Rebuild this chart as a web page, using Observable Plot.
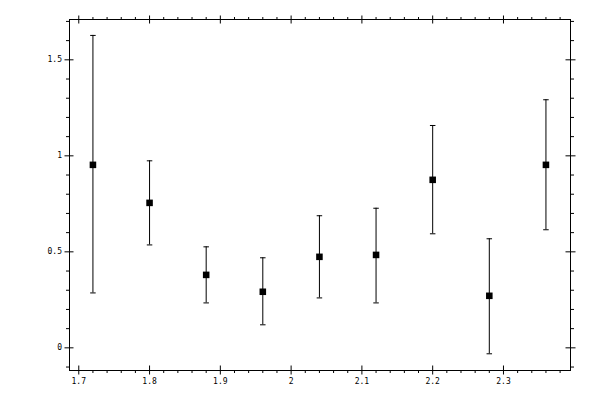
<!DOCTYPE html>
<html>
<head>
<meta charset="utf-8">
<script src="https://cdn.jsdelivr.net/npm/d3@7"></script>
<script src="https://cdn.jsdelivr.net/npm/@observablehq/plot@0.6"></script>
<style>
  body { margin: 0; background: white; }
</style>
</head>
<body>
<div id="chart"></div>
<script>
// Data
const xs    = [1.72, 1.80, 1.88, 1.96, 2.04, 2.12, 2.20, 2.28, 2.36];
const ys    = [0.953, 0.755, 0.380, 0.292, 0.474, 0.484, 0.875, 0.271, 0.953];
const lows  = [0.286, 0.536, 0.234, 0.120, 0.260, 0.234, 0.594, -0.031, 0.615];
const highs = [1.627, 0.974, 0.526, 0.469, 0.688, 0.727, 1.158, 0.568, 1.292];

// Tick values and labels
const xTicks = [1.7, 1.8, 1.9, 2.0, 2.1, 2.2, 2.3];
const xTickLabels = ["1.7", "1.8", "1.9", "2", "2.1", "2.2", "2.3"];
const xMinor = [1.72, 1.74, 1.76, 1.78, 1.82, 1.84, 1.86, 1.88, 1.92, 1.94, 1.96, 1.98,
                2.02, 2.04, 2.06, 2.08, 2.12, 2.14, 2.16, 2.18, 2.22, 2.24, 2.26, 2.28,
                2.32, 2.34, 2.36, 2.38];
const yTicks = [0, 0.5, 1, 1.5];
const yTickLabels = ["0", "0.5", "1", "1.5"];
const yMinor = [-0.1, 0.1, 0.2, 0.3, 0.4, 0.6, 0.7, 0.8, 0.9, 1.1, 1.2, 1.3, 1.4, 1.6, 1.7];

const W = 600, H = 400;
const mL = 69, mR = 30, mT = 19, mB = 30;
const FW = W - mL - mR, FH = H - mT - mB;
const MAJ = 4.5, MIN = 3;

const idx = xs.map((_, i) => i);
const capSymbol = {
  draw(context) {
    context.moveTo(-2.75, 0);
    context.lineTo(2.75, 0);
  }
};
const blank = () => "";

const chart = Plot.plot({
  width: W,
  height: H,
  marginLeft: mL,
  marginRight: mR,
  marginTop: mT,
  marginBottom: mB,
  style: {fontFamily: "'DejaVu Sans Mono', monospace", fontSize: "8px", background: "white", color: "black"},
  x: {type: "linear", domain: [1.6869, 2.3947], label: null},
  y: {type: "linear", domain: [-0.118, 1.710], label: null},
  marks: [
    Plot.frame({stroke: "black", strokeWidth: 1}),
    // major ticks, outward parts (with labels on bottom/left)
    Plot.axisX(xTicks, {anchor: "bottom", tickSize: MAJ, tickPadding: 3, tickFormat: (d, i) => xTickLabels[i], label: null, strokeWidth: 1}),
    Plot.axisX(xTicks, {anchor: "top", tickSize: MAJ, tickFormat: blank, label: null, strokeWidth: 1}),
    Plot.axisY(yTicks, {anchor: "left", tickSize: MAJ, tickPadding: 3, tickFormat: (d, i) => yTickLabels[i], label: null, strokeWidth: 1}),
    Plot.axisY(yTicks, {anchor: "right", tickSize: MAJ, tickFormat: blank, label: null, strokeWidth: 1}),
    // minor ticks, outward
    Plot.axisX(xMinor, {anchor: "bottom", tickSize: MIN, tickFormat: blank, label: null, strokeWidth: 1}),
    Plot.axisX(xMinor, {anchor: "top", tickSize: MIN, tickFormat: blank, label: null, strokeWidth: 1}),
    Plot.axisY(yMinor, {anchor: "left", tickSize: MIN, tickFormat: blank, label: null, strokeWidth: 1}),
    Plot.axisY(yMinor, {anchor: "right", tickSize: MIN, tickFormat: blank, label: null, strokeWidth: 1}),
    // major ticks, inward parts
    Plot.ruleX(xTicks, {x: d => d, insetTop: FH - MAJ, stroke: "black", strokeWidth: 1}),
    Plot.ruleX(xTicks, {x: d => d, insetBottom: FH - MAJ, stroke: "black", strokeWidth: 1}),
    Plot.ruleY(yTicks, {y: d => d, insetRight: FW - MAJ, stroke: "black", strokeWidth: 1}),
    Plot.ruleY(yTicks, {y: d => d, insetLeft: FW - MAJ, stroke: "black", strokeWidth: 1}),
    // error bars
    Plot.ruleX(idx, {x: i => xs[i], y1: i => lows[i], y2: i => highs[i], stroke: "black", strokeWidth: 1}),
    Plot.dot(idx, {x: i => xs[i], y: i => lows[i], symbol: capSymbol, stroke: "black", fill: "none", strokeWidth: 1}),
    Plot.dot(idx, {x: i => xs[i], y: i => highs[i], symbol: capSymbol, stroke: "black", fill: "none", strokeWidth: 1}),
    // points
    Plot.dot(idx, {x: i => xs[i], y: i => ys[i], symbol: "square", r: 3.7, fill: "black", stroke: "none"})
  ]
});
document.getElementById("chart").appendChild(chart);
</script>
</body>
</html>
